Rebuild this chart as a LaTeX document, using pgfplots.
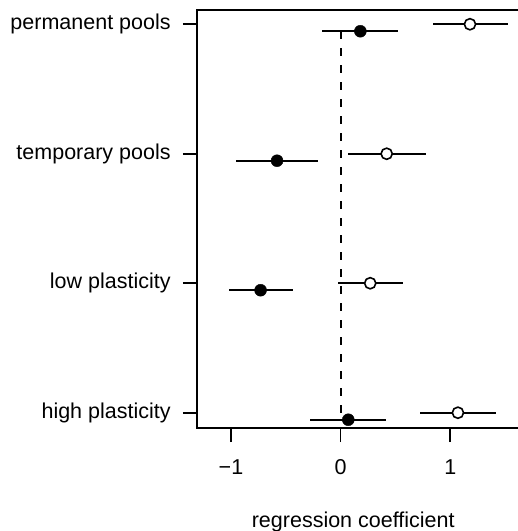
\documentclass[border=0pt]{standalone}
\usepackage{pgfplots}
\pgfplotsset{compat=1.18}
\usepackage{pgfplotstable}
\usepackage{fontspec}
\setmainfont{Liberation Sans}
\pgfplotstableread{
y x lo hi
4 0.18 -0.17 0.525
3 -0.58 -0.95 -0.21
2 -0.73 -1.02 -0.43
1 0.07 -0.28 0.41
}\filled
\pgfplotstableread{
y x lo hi
4 1.18 0.84 1.53
3 0.42 0.07 0.78
2 0.27 -0.02 0.57
1 1.07 0.72 1.42
}\open
\begin{document}
\fontsize{21.5pt}{25pt}\selectfont
\begin{tikzpicture}
\begin{axis}[
  name=ax, at={(0,0)}, anchor=south west,
  scale only axis, width=330pt, height=418pt,
  xmin=-1.31, xmax=1.70, ymin=0.882, ymax=4.11,
  axis line style={line width=1.7pt},
  every tick/.style={black, line width=1.7pt},
  tick align=outside, major tick length=14pt,
  xtick={-1,0,1}, xticklabels={−1,0,1},
  ytick={1,2,3,4},
  yticklabels={high plasticity, low plasticity, temporary pools, permanent pools},
  xtick pos=bottom, ytick pos=left,
  ticklabel style={font=\fontsize{21.5pt}{25pt}\selectfont},
  xticklabel style={anchor=base, yshift=-32pt},
  yticklabel style={anchor=east, xshift=-5pt},
  xlabel={regression coefficient},
  xlabel style={font=\fontsize{21.5pt}{25pt}\selectfont, at={(axis description cs:0.4734,0)}, anchor=base, yshift=-99pt},
  clip=false,
]
\addplot[black, line width=2pt, dash pattern=on 7.5pt off 9.5pt] coordinates {(0,1) (0,4)};
\addplot[black, only marks, mark=*, mark size=6pt, mark options={solid, fill=black},
  error bars/.cd, x dir=both, x explicit, error mark=none,
  error bar style={line width=2pt, black}]
  table[x=x, y expr=\thisrow{y}-0.054, x error plus expr=\thisrow{hi}-\thisrow{x}, x error minus expr=\thisrow{x}-\thisrow{lo}] {\filled};
\addplot[black, only marks, mark=*, mark size=5.6pt, mark options={solid, fill=white, line width=1.6pt},
  error bars/.cd, x dir=both, x explicit, error mark=none,
  error bar style={line width=2pt, black}]
  table[x=x, y=y, x error plus expr=\thisrow{hi}-\thisrow{x}, x error minus expr=\thisrow{x}-\thisrow{lo}] {\open};
\end{axis}
\pgfresetboundingbox
\useasboundingbox (-197pt,-103pt) rectangle (321pt,428pt);
\end{tikzpicture}
\end{document}
